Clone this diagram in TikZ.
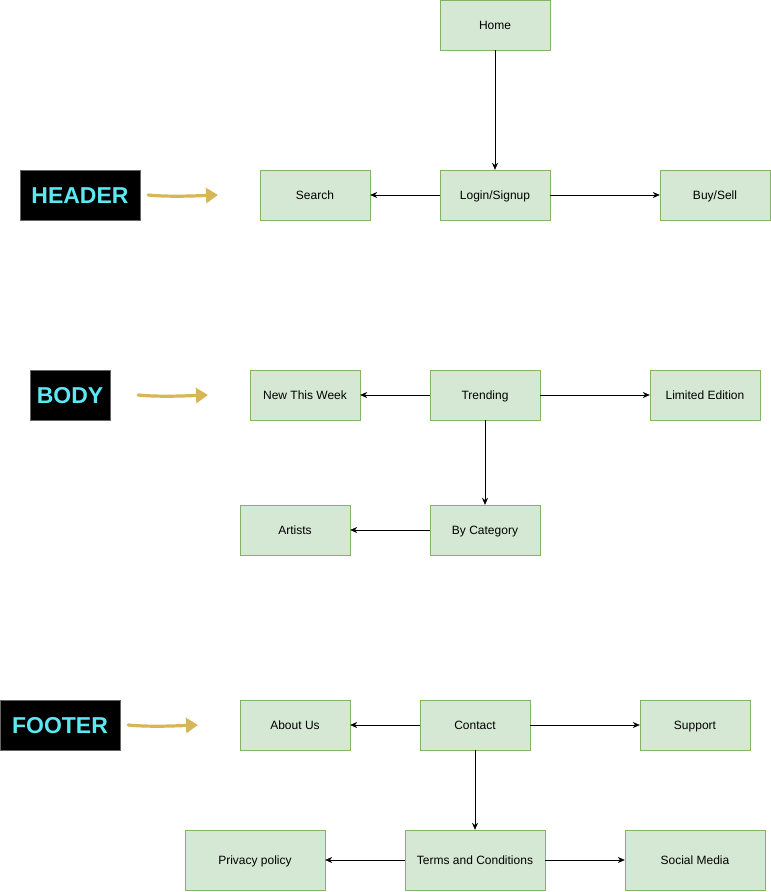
\documentclass[tikz,border=0pt]{standalone}
\usepackage{fontspec}
\setmainfont{Liberation Sans}
\usetikzlibrary{%
  positioning,
  arrows.meta,
}
\definecolor{pagefill}{HTML}{D5E8D4}
\definecolor{pageedge}{HTML}{82B366}
\definecolor{tagtext}{HTML}{5CE8F2}
\definecolor{tagedge}{HTML}{666666}
\definecolor{pointer}{HTML}{D6B656}

\begin{document}
\begin{tikzpicture}[%
           x=1pt, y=-1pt,
           page/.style={
             % The shape:
             rectangle,
             % The size:
             minimum width=110pt,
             minimum height=50pt,
             % The border and filling:
             draw=pageedge,
             fill=pagefill,
             % The text, kept on one baseline:
             font=\fontsize{12}{14}\selectfont,
             text height=9.5pt,
             text depth=1pt,
           },
           widepage/.style={
             page,
             minimum width=140pt,
             minimum height=60pt,
           },
           tag/.style={
             rectangle,
             fill=black,
             draw=tagedge,
             text=tagtext,
             minimum height=50pt,
             text height=16.5pt,
             text depth=0pt,
             font=\fontsize{23}{26}\selectfont\bfseries,
           },
           link/.style={
             -{Stealth[length=7pt,width=6pt]},
             semithick,
             color=black,
           },
           hint/.style={
             -{Triangle[length=12pt,width=15pt]},
             line width=3.2pt,
             line cap=round,
             color=pointer,
           }]

         \useasboundingbox (0,0) rectangle (771,892);

         % header
         \node[page] (home)   at (495,25)  {Home};
         \node[page] (login)  at (495,195) {Login/Signup};
         \node[page] (search) at (315,195) {Search};
         \node[page] (buy)    at (715,195) {Buy/Sell};
         \node[tag, minimum width=120pt] (header) at (80,195) {HEADER};
         \coordinate (headertip) at (218,195);

         \draw[link] (home) -- (login);
         \draw[link] (login) -- (search);
         \draw[link] (login) -- (buy);
         \draw[hint] ([xshift=8pt]header.east) .. controls +(20,2) and +(-25,1) .. (headertip);

         % body
         \node[page] (trend)   at (485,395) {Trending};
         \node[page] (newweek) at (305,395) {New This Week};
         \node[page] (limited) at (705,395) {Limited Edition};
         \node[page] (bycat)   at (485,530) {By Category};
         \node[page] (artists) at (295,530) {Artists};
         \node[tag, minimum width=80pt] (body) at (70,395) {BODY};
         \coordinate (bodytip) at (208,395);

         \draw[link] (trend) -- (newweek);
         \draw[link] (trend) -- (limited);
         \draw[link] (trend) -- (bycat);
         \draw[link] (bycat) -- (artists);
         \draw[hint] ([xshift=28pt]body.east) .. controls +(20,2) and +(-25,1) .. (bodytip);

         % footer
         \node[page] (contact) at (475,725) {Contact};
         \node[page] (about)   at (295,725) {About Us};
         \node[page] (support) at (695,725) {Support};
         \node[widepage] (terms)   at (475,860) {Terms and Conditions};
         \node[widepage] (privacy) at (255,860) {Privacy policy};
         \node[widepage] (social)  at (695,860) {Social Media};
         \node[tag, minimum width=120pt] (footer) at (60,725) {FOOTER};
         \coordinate (footertip) at (198,725);

         \draw[link] (contact) -- (about);
         \draw[link] (contact) -- (support);
         \draw[link] (contact) -- (terms);
         \draw[link] (terms) -- (privacy);
         \draw[link] (terms) -- (social);
         \draw[hint] ([xshift=8pt]footer.east) .. controls +(20,2) and +(-25,1) .. (footertip);

     \end{tikzpicture}
\end{document}
